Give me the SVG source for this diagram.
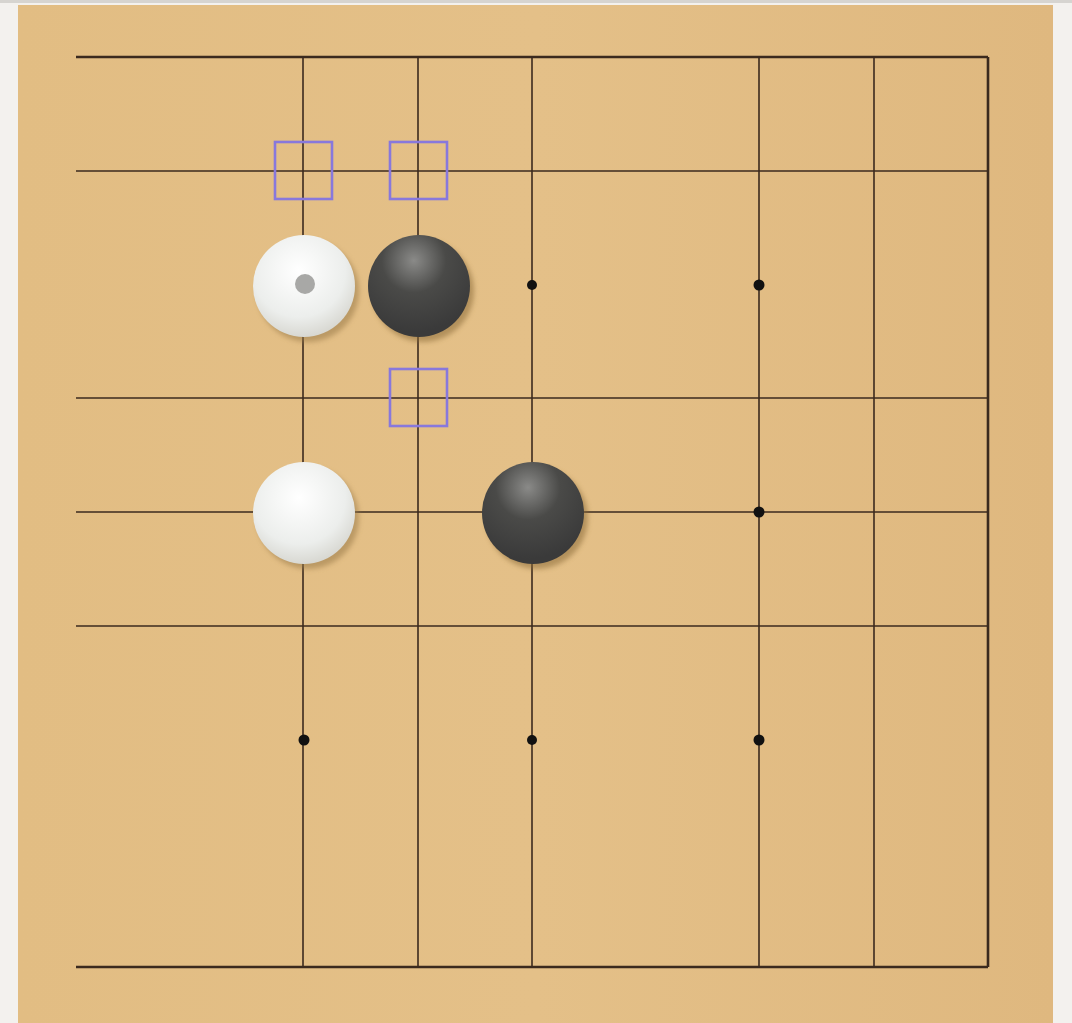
<svg xmlns="http://www.w3.org/2000/svg" width="1072" height="1023" viewBox="0 0 1072 1023">
<defs>
<style>
.g{stroke:#3b2a1e;stroke-width:1.6;fill:none}
.b{stroke:#3b2a1e;stroke-width:2.6;fill:none}
.sq{fill:none;stroke:#8878dc;stroke-width:2.6}
.star{fill:#111}
</style>
<linearGradient id="wood" x1="0" y1="0" x2="1" y2="0">
<stop offset="0" stop-color="#e2bd83"/>
<stop offset="0.5" stop-color="#e4c088"/>
<stop offset="1" stop-color="#dfb87f"/>
</linearGradient>
<radialGradient id="white" cx="0.45" cy="0.35" r="0.65">
<stop offset="0" stop-color="#ffffff"/>
<stop offset="0.7" stop-color="#eceeec"/>
<stop offset="1" stop-color="#d8d8d2"/>
</radialGradient>
<radialGradient id="black" cx="0.45" cy="0.25" r="0.7">
<stop offset="0" stop-color="#8a8a88"/>
<stop offset="0.45" stop-color="#4a4a48"/>
<stop offset="1" stop-color="#3a3a3a"/>
</radialGradient>
<filter id="sh" x="-20%" y="-20%" width="150%" height="150%">
<feGaussianBlur stdDeviation="2.5"/>
</filter>
</defs>
<rect width="1072" height="1023" fill="#f3f1ee"/>
<rect x="0" y="0" width="1072" height="3" fill="#d6d4d0"/>
<rect x="18" y="5" width="1035" height="1018" fill="url(#wood)"/>
<g id="grid">
<line class="b" x1="76" y1="57" x2="988" y2="57"/>
<line class="g" x1="76" y1="171" x2="988" y2="171"/>
<line class="g" x1="76" y1="398" x2="988" y2="398"/>
<line class="g" x1="76" y1="512" x2="988" y2="512"/>
<line class="g" x1="76" y1="626" x2="988" y2="626"/>
<line class="b" x1="76" y1="967" x2="988" y2="967"/>
<line class="g" x1="303" y1="57" x2="303" y2="967"/>
<line class="g" x1="418" y1="57" x2="418" y2="967"/>
<line class="g" x1="532" y1="57" x2="532" y2="967"/>
<line class="g" x1="759" y1="57" x2="759" y2="967"/>
<line class="g" x1="874" y1="57" x2="874" y2="967"/>
<line class="b" x1="988" y1="57" x2="988" y2="967"/>
</g>
<g id="stars">
<circle class="star" cx="532" cy="285" r="5"/>
<circle class="star" cx="759" cy="285" r="5.5"/>
<circle class="star" cx="759" cy="512" r="5.5"/>
<circle class="star" cx="304" cy="740" r="5.5"/>
<circle class="star" cx="532" cy="740" r="5"/>
<circle class="star" cx="759" cy="740" r="5.5"/>
</g>
<g id="stone-w1">
<circle cx="308" cy="291" r="51" fill="#9a7a48" opacity="0.55" filter="url(#sh)"/>
<circle cx="304" cy="286" r="51" fill="url(#white)"/>
<circle cx="305" cy="284" r="10" fill="#a8a8a6"/>
</g>
<g id="stone-b1">
<circle cx="423" cy="291" r="51" fill="#8a6a38" opacity="0.55" filter="url(#sh)"/>
<circle cx="419" cy="286" r="51" fill="url(#black)"/>
</g>
<g id="stone-w2">
<circle cx="308" cy="518" r="51" fill="#9a7a48" opacity="0.55" filter="url(#sh)"/>
<circle cx="304" cy="513" r="51" fill="url(#white)"/>
</g>
<g id="stone-b2">
<circle cx="537" cy="518" r="51" fill="#8a6a38" opacity="0.55" filter="url(#sh)"/>
<circle cx="533" cy="513" r="51" fill="url(#black)"/>
</g>
<g id="marks">
<rect class="sq" x="275" y="142" width="57" height="57"/>
<rect class="sq" x="390" y="142" width="57" height="57"/>
<rect class="sq" x="390" y="369" width="57" height="57"/>
</g>
</svg>
